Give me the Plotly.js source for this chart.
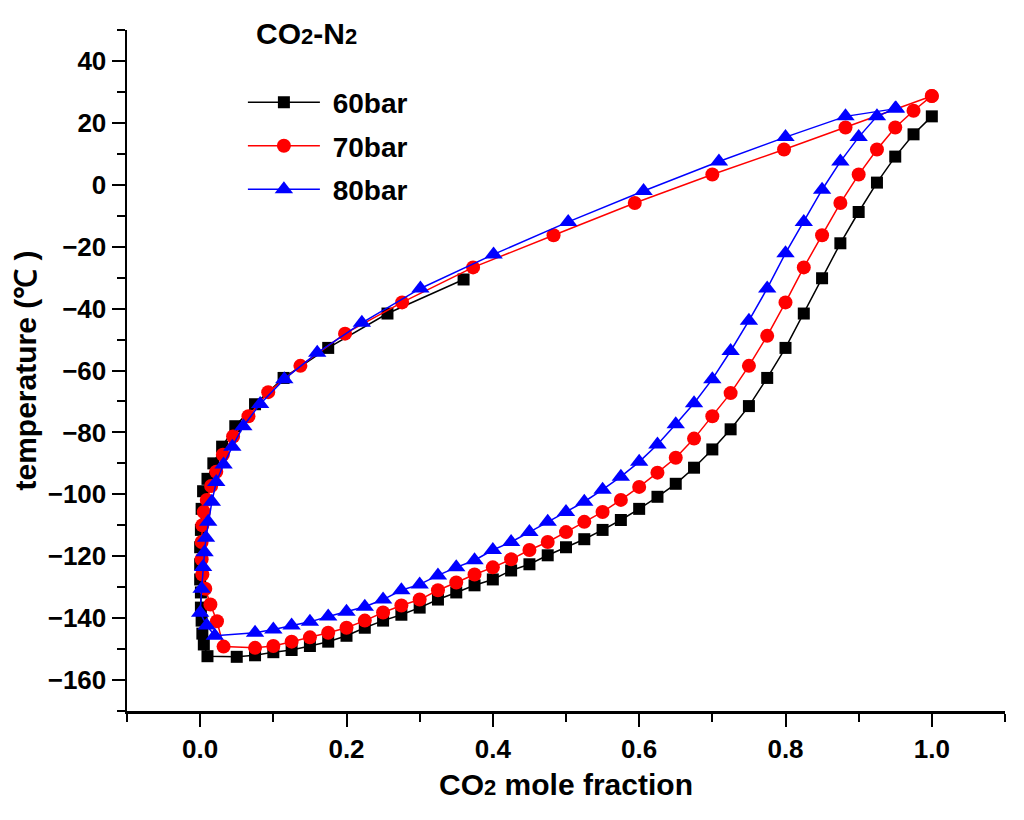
<!DOCTYPE html>
<html>
<head>
<meta charset="utf-8">
<script src="https://cdn.plot.ly/plotly-3.0.1.min.js"></script>
<style>
  body { margin: 0; background: #fff; }
  #myDiv { width: 1024px; height: 820px; }
</style>
</head>
<body>
<div id="myDiv"></div>
<script>
// 60 bar - upper (dew) branch, read from top to bottom
let dewX60 = [0.360, 0.256, 0.175, 0.114, 0.075, 0.048, 0.030, 0.018, 0.010, 0.004, 0.002, 0.001, 0.0, 0.0, 0.0, 0.001, 0.001, 0.002, 0.003, 0.005, 0.010];
let dewT60 = [-30.6, -41.6, -52.7, -62.4, -70.9, -78.0, -84.6, -90.0, -95.0, -99.0, -104.7, -111.5, -117.1, -122.6, -127.5, -131.7, -136.6, -140.8, -145.0, -148.5, -152.3];
// 60 bar - lower (bubble) branch, left to right
let bubX60 = [0.05, 0.075, 0.1, 0.125, 0.15, 0.175, 0.2, 0.225, 0.25, 0.275, 0.3, 0.325, 0.35, 0.375, 0.4, 0.425, 0.45, 0.475, 0.5, 0.525, 0.55, 0.575, 0.6, 0.625, 0.65, 0.675, 0.7, 0.725, 0.75, 0.775, 0.8, 0.825, 0.85, 0.875, 0.9, 0.925, 0.95, 0.975, 1.0];
let bubT60 = [-152.5, -152.0, -151.0, -150.3, -149.0, -147.6, -145.7, -143.1, -140.8, -138.9, -136.6, -134.0, -131.7, -129.4, -127.5, -124.6, -122.6, -119.7, -117.1, -114.5, -111.5, -108.3, -104.7, -100.8, -96.6, -91.4, -85.5, -79.0, -71.5, -62.4, -52.7, -41.6, -30.2, -18.9, -8.8, 0.7, 9.1, 16.3, 22.1];

// 70 bar
let dewX70 = [1.0, 0.882, 0.798, 0.700, 0.594, 0.483, 0.373, 0.276, 0.198, 0.137, 0.093, 0.066, 0.045, 0.031, 0.022, 0.015, 0.009, 0.005, 0.003, 0.002, 0.002, 0.003, 0.007, 0.014, 0.023, 0.032];
let dewT70 = [28.7, 18.5, 11.4, 3.3, -5.9, -16.3, -26.7, -38.0, -48.1, -58.5, -67.0, -74.8, -81.3, -87.2, -92.7, -97.3, -101.8, -105.7, -110.0, -115.4, -121.0, -125.9, -130.5, -135.6, -141.0, -149.2];
let bubX70 = [0.075, 0.1, 0.125, 0.15, 0.175, 0.2, 0.225, 0.25, 0.275, 0.3, 0.325, 0.35, 0.375, 0.4, 0.425, 0.45, 0.475, 0.5, 0.525, 0.55, 0.575, 0.6, 0.625, 0.65, 0.675, 0.7, 0.725, 0.75, 0.775, 0.8, 0.825, 0.85, 0.875, 0.9, 0.925, 0.95, 0.975, 1.0];
let bubT70 = [-149.6, -149.0, -147.6, -146.2, -144.7, -143.1, -140.8, -138.2, -135.9, -134.0, -131.0, -128.5, -125.9, -123.6, -121.0, -118.0, -115.4, -112.2, -108.9, -105.7, -101.8, -97.6, -93.0, -88.2, -82.0, -74.8, -67.3, -58.5, -48.8, -38.0, -26.7, -16.3, -5.9, 3.3, 11.4, 18.5, 23.9, 28.7];

// 80 bar
let dewX80 = [0.951, 0.882, 0.800, 0.709, 0.606, 0.503, 0.401, 0.301, 0.221, 0.160, 0.115, 0.082, 0.059, 0.044, 0.032, 0.022, 0.016, 0.011, 0.008, 0.006, 0.004, 0.002, 0.0, 0.009, 0.020];
let dewT80 = [24.6, 22.1, 15.4, 7.5, -2.0, -12.0, -22.5, -33.5, -44.6, -54.3, -62.8, -70.8, -78.0, -84.6, -90.4, -96.0, -102.4, -108.9, -114.0, -118.7, -123.5, -130.5, -138.3, -142.4, -145.7];
let bubX80 = [0.075, 0.1, 0.125, 0.15, 0.175, 0.2, 0.225, 0.25, 0.275, 0.3, 0.325, 0.35, 0.375, 0.4, 0.425, 0.45, 0.475, 0.5, 0.525, 0.55, 0.575, 0.6, 0.625, 0.65, 0.675, 0.7, 0.725, 0.75, 0.775, 0.8, 0.825, 0.85, 0.875, 0.9, 0.925, 0.95];
let bubT80 = [-144.7, -143.7, -142.4, -141.2, -139.5, -137.9, -136.3, -134.0, -131.0, -129.1, -126.2, -123.6, -121.3, -118.0, -115.4, -112.2, -108.9, -105.7, -102.4, -98.5, -94.3, -89.5, -83.9, -77.4, -70.6, -62.8, -53.7, -43.9, -33.5, -22.1, -12.0, -1.6, 7.5, 15.4, 22.1, 24.6];

let seriesNames = ["60bar", "70bar", "80bar"];

const FONT = "Liberation Sans, Arial, Helvetica, sans-serif";

function makeTrace(name, dewX, dewT, bubX, bubT, color, symbol, size) {
  return {
    x: dewX.concat(bubX),
    y: dewT.concat(bubT),
    // nbsp keeps the gap between the legend line and the label
    name: "\u00a0" + name,
    legendgroup: name,
    mode: "lines+markers",
    type: "scatter",
    line: { color: color, width: 1.5 },
    marker: { color: color, symbol: symbol, size: size }
  };
}

function axisBase() {
  return {
    showline: true,
    linecolor: "#000",
    linewidth: 2.5,
    showgrid: false,
    zeroline: false,
    mirror: false,
    ticks: "outside",
    ticklen: 13,
    tickwidth: 2,
    tickcolor: "#000",
    tickfont: { family: FONT, size: 26, color: "#000", weight: "bold" }
  };
}

function drawGraph() {
  let data = [];

  data.push(makeTrace(seriesNames[0], dewX60, dewT60, bubX60, bubT60, "#000000", "square", 12));
  data.push(makeTrace(seriesNames[1], dewX70, dewT70, bubX70, bubT70, "#ff0000", "circle", 14));
  data.push(makeTrace(seriesNames[2], dewX80, dewT80, bubX80, bubT80, "#0000ff", "triangle-up", 16));

  let xaxis = axisBase();
  xaxis.range = [-0.1, 1.1];
  xaxis.tickmode = "linear";
  xaxis.tick0 = 0;
  xaxis.dtick = 0.2;
  xaxis.tickformat = ".1f";
  xaxis.minor = { dtick: 0.1, tick0: 0, ticks: "outside", ticklen: 8, tickwidth: 2, tickcolor: "#000" };
  xaxis.title = {
    text: "CO<span style='font-size:22px'>2</span> mole fraction",
    font: { family: FONT, size: 30, color: "#000", weight: "bold" },
    standoff: 12
  };

  let yaxis = axisBase();
  yaxis.range = [-170, 50];
  yaxis.tickmode = "linear";
  yaxis.tick0 = 0;
  yaxis.dtick = 20;
  yaxis.minor = { dtick: 10, tick0: 0, ticks: "outside", ticklen: 8, tickwidth: 2, tickcolor: "#000" };
  yaxis.title = {
    text: "temperature (\u2103 )",
    font: { family: FONT, size: 30, color: "#000", weight: "bold" },
    standoff: 2
  };

  let layout = {
    width: 1024,
    height: 820,
    margin: { l: 127, r: 19, t: 30, b: 109 },
    paper_bgcolor: "#fff",
    plot_bgcolor: "#fff",
    xaxis: xaxis,
    yaxis: yaxis,
    showlegend: true,
    legend: {
      x: 0.132,
      y: 0.93,
      xanchor: "left",
      yanchor: "top",
      bgcolor: "rgba(0,0,0,0)",
      itemwidth: 72,
      tracegroupgap: 4,
      traceorder: "grouped",
      font: { family: FONT, size: 28, color: "#000", weight: "bold" }
    },
    annotations: [
      {
        xref: "paper",
        yref: "paper",
        x: 0.204,
        y: 0.995,
        xanchor: "center",
        yanchor: "middle",
        showarrow: false,
        text: "CO<span style='font-size:22px'>2</span>-N<span style='font-size:22px'>2</span>",
        font: { family: FONT, size: 30, color: "#000", weight: "bold" }
      }
    ]
  };

  Plotly.newPlot("myDiv", data, layout, { displayModeBar: false, staticPlot: true });
}

drawGraph();
</script>
</body>
</html>
